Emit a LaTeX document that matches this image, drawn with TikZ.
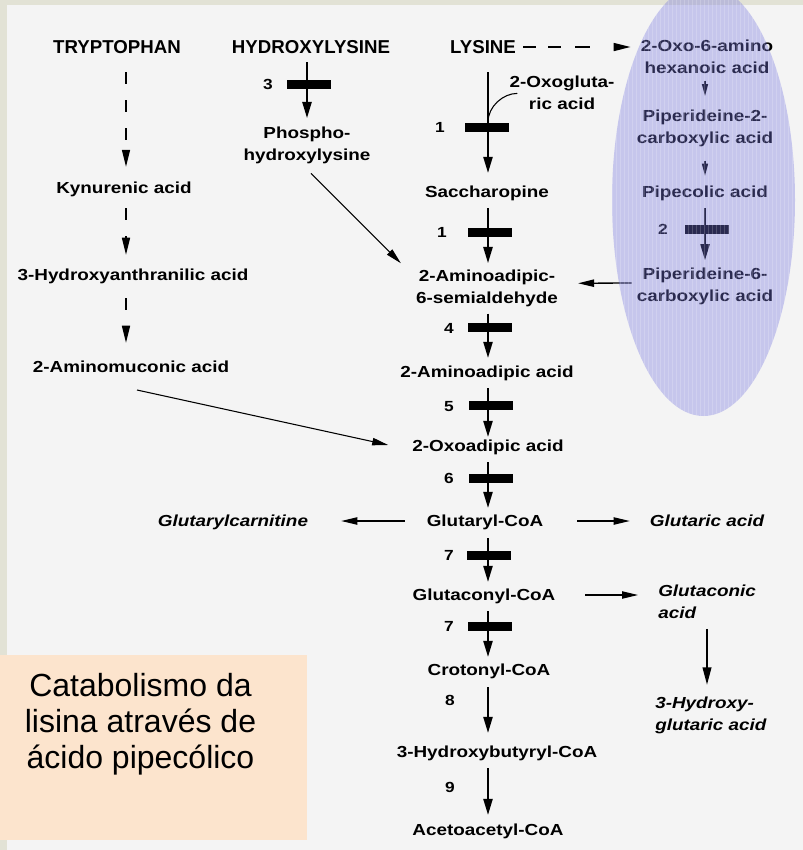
\documentclass[tikz,border=0pt]{standalone}
\usepackage{fontspec}
\setmainfont{Liberation Sans}
\newfontfamily\lbl[FakeStretch=1.18]{Liberation Sans}
\usetikzlibrary{arrows.meta}
\definecolor{framecol}{RGB}{226,226,213}
\definecolor{panelcol}{RGB}{244,244,244}
\definecolor{lavender}{RGB}{118,118,222}
\definecolor{peach}{RGB}{252,228,205}

\begin{document}
\begin{tikzpicture}[x=0.75pt, y=-0.75pt,
  title/.style={font=\bfseries\fontsize{14}{16}\selectfont, inner sep=0pt, text height=10pt, text depth=0pt},
  cpd/.style={font=\lbl\bfseries\fontsize{12}{16.5}\selectfont, inner sep=0pt, text height=8.6pt, text depth=0pt},
  cpdtwo/.style={font=\lbl\bfseries\fontsize{12}{16.5}\selectfont, inner sep=0pt, align=center},
  side/.style={font=\lbl\bfseries\itshape\fontsize{12}{16.5}\selectfont, inner sep=0pt, text height=8.6pt, text depth=0pt},
  sidetwo/.style={font=\lbl\bfseries\itshape\fontsize{12}{16.5}\selectfont, inner sep=0pt, align=left},
  enz/.style={font=\lbl\bfseries\fontsize{11}{13}\selectfont, inner sep=0pt, text height=7.9pt, text depth=0pt},
  blk/.style={fill=black, inner sep=0pt, minimum width=33pt, minimum height=6.75pt},
  flow/.style={line width=1.1pt, -{Triangle[length=12pt, width=7pt]}},
  guess/.style={line width=1.1pt, dash pattern=on 9pt off 12pt, -{Triangle[length=12.75pt, width=6pt]}},
  minor/.style={line width=0.8pt, -{Triangle[length=12pt, width=5.5pt]}},
  small/.style={line width=1pt, -{Triangle[length=9pt, width=4.5pt]}},
]
\useasboundingbox (0,0) rectangle (803,850);

% background frame and panel
\fill[framecol] (0,0) rectangle (803,850);
\fill[panelcol] (7,5) rectangle (803,850);

% starting amino acids
\node[title] (trp) at (117,47) {TRYPTOPHAN};
\node[title] (hyl) at (311,47) {HYDROXYLYSINE};
\node[title] (lys) at (483,47) {LYSINE};

% pipecolic acid branch
\node[cpdtwo, anchor=north] (oxo) at (707,39.25) {2-Oxo-6-amino\\hexanoic acid};
\node[cpdtwo, anchor=north] (p2c) at (705,109.25) {Piperideine-2-\\carboxylic acid};
\node[cpd] (pip) at (705,192) {Pipecolic acid};
\node[cpdtwo, anchor=north] (p6c) at (705,267.25) {Piperideine-6-\\carboxylic acid};

% tryptophan branch
\node[cpd] (kyn) at (124,188) {Kynurenic acid};
\node[cpd] (hya) at (133,275) {3-Hydroxyanthranilic acid};
\node[cpd] (amu) at (131,367) {2-Aminomuconic acid};

% hydroxylysine branch
\node[cpdtwo, anchor=north] (phl) at (307,127) {Phospho-\\hydroxylysine};

% main lysine pathway
\node[cpdtwo, anchor=north] (ogl) at (562,75.25) {2-Oxogluta-\\ric acid};
\node[cpd] (sac) at (487,192) {Saccharopine};
\node[cpdtwo, anchor=north] (aas) at (487,269.25) {2-Aminoadipic-\\6-semialdehyde};
\node[cpd] (aaa) at (487,371.5) {2-Aminoadipic acid};
\node[cpd] (oxa) at (488,446) {2-Oxoadipic acid};
\node[cpd] (gcoa) at (485,521) {Glutaryl-CoA};
\node[cpd] (gccoa) at (484,595) {Glutaconyl-CoA};
\node[cpd] (ccoa) at (489,670) {Crotonyl-CoA};
\node[cpd] (hbcoa) at (497,752) {3-Hydroxybutyryl-CoA};
\node[cpd] (aacoa) at (488,830) {Acetoacetyl-CoA};

% side products
\node[side] (gcar) at (233,521) {Glutarylcarnitine};
\node[side] (gac) at (707,521) {Glutaric acid};
\node[sidetwo, anchor=north west] (gcac) at (658,584.25) {Glutaconic\\acid};
\node[sidetwo, anchor=north west] (hga) at (655,696.5) {3-Hydroxy-\\glutaric acid};

% axes of the vertical chains
\coordinate (ax) at (488,0);
\coordinate (lx) at (126,0);

% tryptophan chain (dashed)
\draw[guess, shorten <=13.7pt, shorten >=11.4pt] (lx |- trp.south) -- (lx |- kyn.north);
\draw[guess, shorten <=10.7pt, shorten >=10.7pt] (lx |- kyn.south) -- (lx |- hya.north);
\draw[guess, shorten <=12.9pt, shorten >=13.7pt] (lx |- hya.south) -- (lx |- amu.north);

% hydroxylysine chain
\draw[flow, shorten <=6.2pt, shorten >=6.8pt] (hyl.south -| phl.north) -- (phl.north);

% main chain
\draw[flow, shorten <=13.7pt, shorten >=9.9pt] (ax |- lys.south) -- (ax |- sac.north);
\draw[flow, shorten <=7.7pt, shorten >=4.7pt] (ax |- sac.south) -- (ax |- aas.north);
\draw[flow, shorten <=5.2pt, shorten >=5.8pt] (ax |- aas.south) -- (ax |- aaa.north);
\draw[flow, shorten <=8.1pt, shorten >=2.4pt] (ax |- aaa.south) -- (ax |- oxa.north);
\draw[flow, shorten <=7.7pt, shorten >=5.4pt] (ax |- oxa.south) -- (ax |- gcoa.north);
\draw[flow, shorten <=8.4pt, shorten >=5.4pt] (ax |- gcoa.south) -- (ax |- gccoa.north);
\draw[flow, shorten <=7.7pt, shorten >=5.4pt] (ax |- gccoa.south) -- (ax |- ccoa.north);
\draw[flow, shorten <=8.4pt, shorten >=9.9pt] (ax |- ccoa.south) -- (ax |- hbcoa.north);
\draw[flow, shorten <=7.7pt, shorten >=6.9pt] (ax |- hbcoa.south) -- (ax |- aacoa.north);

% enzyme blocks and their numbers
\node[blk] (e3) at (309,84) {};   \node[enz] (n3) at (268,84) {3};
\node[blk] (e1a) at (487,127) {}; \node[enz] (n1a) at (440,127) {1};
\node[blk] (e1b) at (490,232) {}; \node[enz] (n1b) at (442,232) {1};
\node[blk] (e4) at (490,327) {};  \node[enz] (n4) at (449,328) {4};
\node[blk] (e5) at (491,405) {};  \node[enz] (n5) at (449,406) {5};
\node[blk] (e6) at (491,478) {};  \node[enz] (n6) at (449,478) {6};
\node[blk] (e7a) at (489,555) {}; \node[enz] (n7a) at (449,555) {7};
\node[blk] (e7b) at (490,626) {}; \node[enz] (n7b) at (449,626) {7};
\node[enz] (n8) at (450,700) {8};
\node[enz] (n9) at (450,787) {9};
\node[blk] (e2) at (707,229) {};  \node[enz] (n2) at (663,229) {2};

% 2-oxoglutarate joining step 1
\coordinate (c0) at (ax |- e1a.north);
\coordinate (c1) at ([shift={(8,1)}]ogl.west);
\draw[line width=0.8pt] (c0) .. controls ([shift={(0,-16)}]c0) and ([shift={(-14,0)}]c1) .. (c1);

% lysine to the pipecolic branch
\draw[line width=1.1pt, dash pattern=on 9.75pt off 9pt on 9.75pt off 10.5pt on 11.25pt off 22.5pt,
      -{Triangle[length=12.75pt, width=6pt]}, shorten <=5.5pt, shorten >=7.5pt]
      (lys.east) -- (lys.east -| oxo.west);

% pipecolic branch chain
\draw[small, shorten <=5.4pt, shorten >=9.9pt] (oxo.south -| p2c.north) -- (p2c.north);
\draw[small, shorten <=10.4pt, shorten >=7.7pt] (p2c.south) -- (pip.north);
\draw[flow, shorten <=7.7pt, shorten >=5.4pt] (pip.south) -- (p6c.north);

% side reactions
\draw[minor, shorten <=16.4pt, shorten >=24.75pt] (gcoa.west) -- (gcar.east);
\draw[minor, shorten <=25.4pt, shorten >=14.9pt] (gcoa.east) -- (gac.west);
\draw[minor, shorten <=22.3pt, shorten >=15pt] (gccoa.east) -- (gccoa.east -| gcac.west);
\draw[line width=1.3pt, -{Triangle[length=13pt, width=6.5pt]}, shorten <=7.7pt, shorten >=8.8pt]
      (gcac.south -| gac) -- (hga.north -| gac);

% branches joining the main pathway
\draw[minor] ([shift={(6,17)}]amu.south) -- ([shift={(-24,-1)}]oxa.west);
\draw[minor] ([shift={(4,9)}]phl.south) -- ([shift={(-15,-6)}]aas.north west);
\draw[minor, line width=1pt] ([shift={(-5,-3)}]p6c.west) -- ([shift={(20,-4.7)}]aas.east);

% shaded pipecolic acid region with its fine screen
\begin{scope}
  \clip (0,0) rectangle (803,850);
  \fill[lavender, opacity=0.36] (703.5,200) ellipse [x radius=91.5, y radius=216];
  \clip (703.5,200) ellipse [x radius=91.5, y radius=216];
  \draw[white, opacity=0.18, line width=0.4pt] (600,-20) grid[step=4] (800,420);
\end{scope}

% caption box
\fill[peach] (0,655) rectangle (307,840);
\node[font=\fontsize{24}{27}\selectfont, align=center, inner sep=0pt, anchor=north] (note)
  at (140.5,673) {Catabolismo da\\lisina através de\\ácido pipecólico};
\end{tikzpicture}
\end{document}
